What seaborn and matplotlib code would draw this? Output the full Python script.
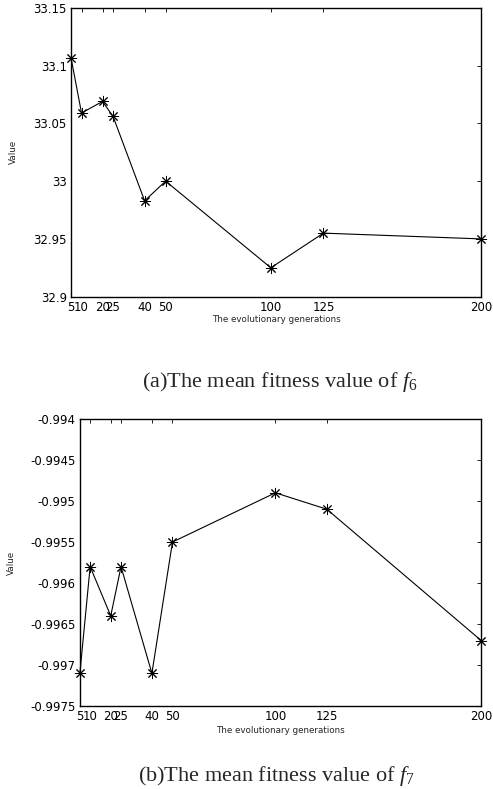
import matplotlib
matplotlib.use("Agg")
import matplotlib.pyplot as plt
import matplotlib.ticker as mticker
import pandas as pd
import seaborn as sns

# Data
generations = [5, 10, 20, 25, 40, 50, 100, 125, 200]
f6_mean = [33.107, 33.059, 33.069, 33.056, 32.983, 33.000, 32.925, 32.955, 32.950]
f7_mean = [-0.9971, -0.9958, -0.9964, -0.9958, -0.9971, -0.9955, -0.9949, -0.9951, -0.9967]
f6_yticks = [32.9, 32.95, 33.0, 33.05, 33.1, 33.15]
f7_yticks = [-0.9975, -0.997, -0.9965, -0.996, -0.9955, -0.995, -0.9945, -0.994]

sns.set_style("white")
plt.rcParams["font.family"] = ["DejaVu Sans"]
plt.rcParams["axes.unicode_minus"] = False
plt.rcParams["mathtext.fontset"] = "custom"
plt.rcParams["mathtext.rm"] = "Liberation Serif"
plt.rcParams["mathtext.it"] = "Liberation Serif:italic"

fig = plt.figure(figsize=(4.93, 7.89), dpi=100)
ax1 = fig.add_axes([0.144, 0.624, 0.832, 0.366])
ax2 = fig.add_axes([0.162, 0.105, 0.814, 0.364])


def draw(ax, yvals, yticks, xlab_y, ylab_x):
    df = pd.DataFrame({"gen": generations, "val": yvals})
    sns.lineplot(data=df, x="gen", y="val", ax=ax, color="black", linewidth=0.8,
                 marker=(8, 2, 0), markersize=8, markeredgecolor="black",
                 markeredgewidth=0.7, clip_on=False)
    ax.set_xlim(5, 200)
    ax.set_ylim(yticks[0], yticks[-1])
    ax.set_xticks(generations)
    ax.set_yticks(yticks)
    ax.yaxis.set_major_formatter(mticker.FormatStrFormatter("%g"))
    ax.tick_params(direction="in", length=3, width=0.6, top=True, right=True,
                   labelsize=8.5, pad=3, colors="black")
    ax.set_xlabel("The evolutionary generations", fontsize=6.3)
    ax.set_ylabel("Value", fontsize=6.3)
    ax.xaxis.set_label_coords(0.5, xlab_y)
    ax.yaxis.set_label_coords(ylab_x, 0.5)
    for s in ax.spines.values():
        s.set_color("black")
        s.set_linewidth(1.0)


draw(ax1, f6_mean, f6_yticks, -0.062, -0.129)
draw(ax2, f7_mean, f7_yticks, -0.070, -0.160)

fig.text(0.567, 0.516, "(a)The mean fitness value of $\\mathit{f}_{\\mathrm{6}}$",
         ha="center", va="center", fontsize=16, family="Liberation Serif")
fig.text(0.560, 0.016, "(b)The mean fitness value of $\\mathit{f}_{\\mathrm{7}}$",
         ha="center", va="center", fontsize=16, family="Liberation Serif")

fig.savefig("out.png", dpi=100)
